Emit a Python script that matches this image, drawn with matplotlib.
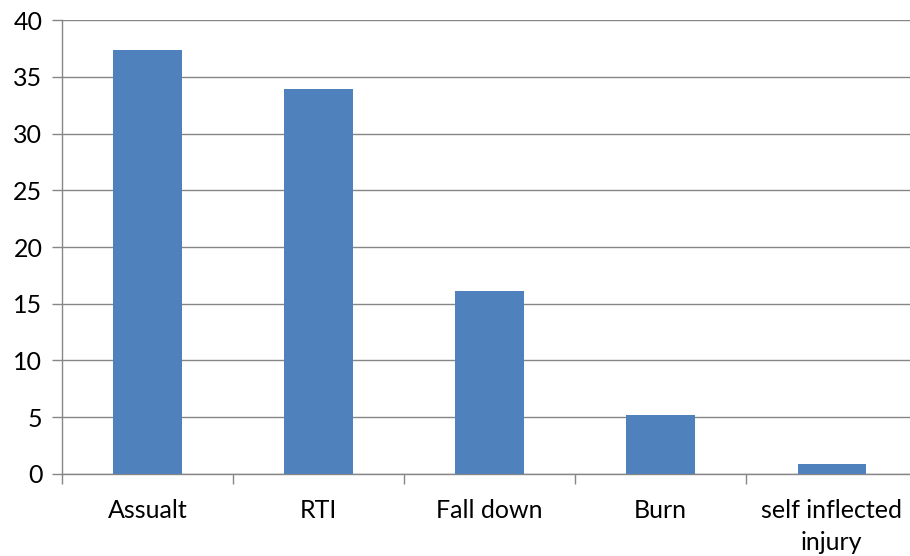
import matplotlib.pyplot as plt
import numpy as np

categories = ["Assualt", "RTI", "Fall down", "Burn", "self inflected\ninjury"]
values = [37.4, 33.9, 16.1, 5.2, 0.9]
yticks = [0, 5, 10, 15, 20, 25, 30, 35, 40]

plt.rcParams['font.family'] = ['Lato', 'DejaVu Sans']

fig = plt.figure(figsize=(9.1, 5.56), dpi=100)
ax = fig.add_axes([0.068, 0.1475, 0.94, 0.8165])

x = np.arange(len(categories))
ax.bar(x, values, width=0.4, color="#4F81BD", zorder=3)

grey = "#868686"
ax.set_xlim(-0.5, len(categories) - 0.5)
ax.set_ylim(0, 40)
ax.set_yticks(yticks)
ax.yaxis.grid(True, color=grey, linewidth=1.0, zorder=0)

ax.set_xticks(x)
ax.set_xticklabels(categories, fontsize=18, linespacing=1.45)
ax.set_xticks(np.arange(len(categories) + 1) - 0.5, minor=True)
ax.tick_params(axis="x", which="major", length=0, pad=18)
ax.tick_params(axis="x", which="minor", length=7, color=grey, width=1.0)
ax.tick_params(axis="y", length=7, color=grey, width=1.0, labelsize=18, pad=7)

for side in ["top", "right"]:
    ax.spines[side].set_visible(False)
for side in ["left", "bottom"]:
    ax.spines[side].set_color(grey)
    ax.spines[side].set_linewidth(1.0)

fig.savefig("out.png", dpi=100)
